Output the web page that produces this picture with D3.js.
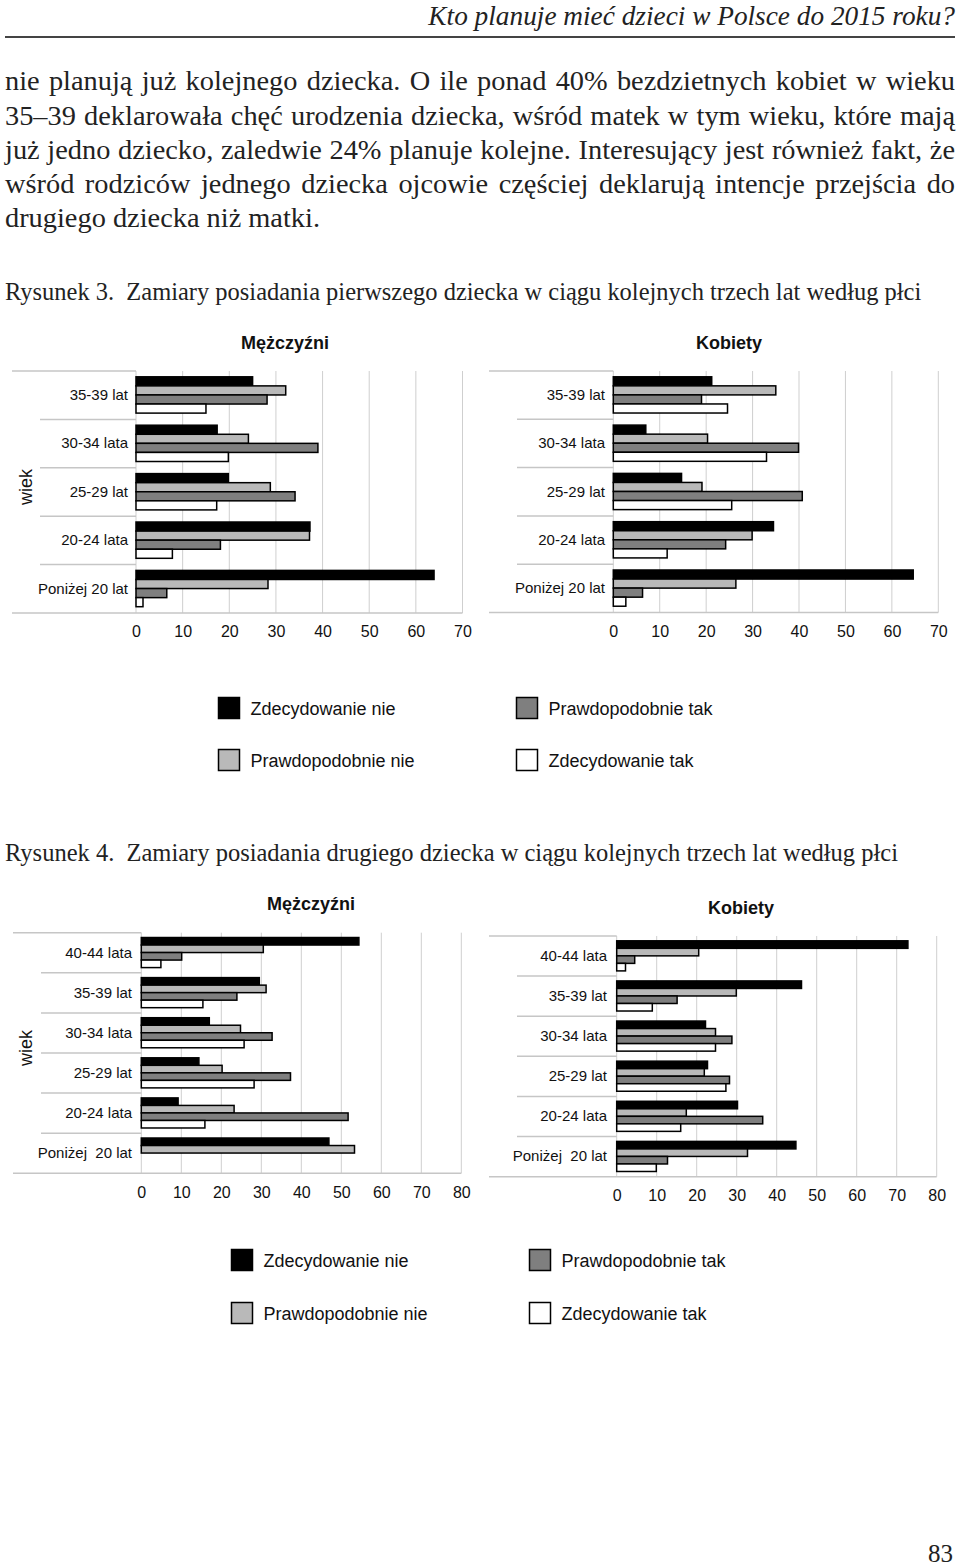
<!DOCTYPE html>
<html>
<head>
<meta charset="utf-8">
<script src="https://cdn.jsdelivr.net/npm/d3@7"></script>
<style>
  body { margin: 0; background: #fff; }
  svg { display: block; }
  .serif { font-family: "Liberation Serif", "Times New Roman", serif; fill: #222; }
  .sans { font-family: "Liberation Sans", Arial, sans-serif; fill: #111; }
</style>
</head>
<body>
<div id="page"></div>
<script>
// series (same order in every group, top to bottom)
var seriesNames = ["Zdecydowanie nie", "Prawdopodobnie nie", "Prawdopodobnie tak", "Zdecydowanie tak"];
var seriesColors = ["#000000", "#b9b9b9", "#7f7f7f", "#ffffff"];

// Rysunek 3 - first child
var ages3 = ["35-39 lat", "30-34 lata", "25-29 lat", "20-24 lata", "Poniżej 20 lat"];
var ticks3 = [0, 10, 20, 30, 40, 50, 60, 70];
// rows = ages3, columns = seriesNames
var fig3Men = [
  [25.0, 32.1, 28.1, 15.0],
  [17.4, 24.1, 39.0, 19.8],
  [19.8, 28.8, 34.1, 17.3],
  [37.3, 37.2, 18.1, 7.8],
  [63.9, 28.3, 6.6, 1.5]
];
var fig3Women = [
  [21.2, 35.0, 19.0, 24.6],
  [7.0, 20.3, 39.9, 33.0],
  [14.7, 19.1, 40.7, 25.5],
  [34.5, 29.9, 24.2, 11.6],
  [64.6, 26.4, 6.3, 2.7]
];

// Rysunek 4 - second child
var ages4 = ["40-44 lata", "35-39 lat", "30-34 lata", "25-29 lat", "20-24 lata", "Poniżej  20 lat"];
var ticks4 = [0, 10, 20, 30, 40, 50, 60, 70, 80];
var fig4Men = [
  [54.4, 30.5, 10.1, 4.9],
  [29.5, 31.2, 23.9, 15.4],
  [17.0, 24.8, 32.7, 25.7],
  [14.4, 20.2, 37.3, 28.2],
  [9.2, 23.2, 51.7, 15.9],
  [46.9, 53.3, null, null]
];
var fig4Women = [
  [72.8, 20.5, 4.5, 2.2],
  [46.2, 29.9, 15.1, 8.9],
  [22.2, 24.7, 28.8, 24.7],
  [22.7, 21.9, 28.2, 27.3],
  [30.2, 17.4, 36.5, 16.0],
  [44.8, 32.7, 12.7, 9.9]
];

var bodyLines = [
  "nie planują już kolejnego dziecka. O ile ponad 40% bezdzietnych kobiet w wieku",
  "35–39 deklarowała chęć urodzenia dziecka, wśród matek w tym wieku, które mają",
  "już jedno dziecko, zaledwie 24% planuje kolejne. Interesujący jest również fakt, że",
  "wśród rodziców jednego dziecka ojcowie częściej deklarują intencje przejścia do",
  "drugiego dziecka niż matki."
];

var W = 960, H = 1567;
var svg = d3.select("#page").append("svg")
    .attr("width", W)
    .attr("height", H);

// scale font so the text gets a given width
function fitSize(sel, base, target) {
  sel.style("font-size", base + "px");
  var len = sel.node().getComputedTextLength();
  var s = base * target / len;
  sel.style("font-size", s + "px");
  return s;
}

// running header
var hdr = svg.append("text")
    .attr("class", "serif")
    .attr("x", 955).attr("y", 25)
    .attr("text-anchor", "end")
    .style("font-style", "italic")
    .text("Kto planuje mieć dzieci w Polsce do 2015 roku?");
fitSize(hdr, 25, 527);
svg.append("line")
    .attr("x1", 5).attr("x2", 955)
    .attr("y1", 37).attr("y2", 37)
    .attr("stroke", "#444").attr("stroke-width", 2);

// paragraph, justified with word spacing
var lineBase = [90, 124.5, 158.5, 192.5, 226.5];
var body = svg.selectAll("text.body").data(bodyLines).enter()
  .append("text")
    .attr("class", "serif body")
    .attr("x", 5)
    .attr("y", function(d, i) { return lineBase[i]; })
    .text(function(d) { return d; });
var bodySize = fitSize(d3.select(body.nodes()[4]), 27, 315);
body.style("font-size", bodySize + "px")
  .each(function(d, i) {
    if (i === 4) return;
    var len = this.getComputedTextLength();
    var gaps = d.split(" ").length - 1;
    d3.select(this).style("word-spacing", ((950 - len) / gaps) + "px");
  });

function caption(txt, y, len) {
  var c = svg.append("text")
      .attr("class", "serif")
      .attr("x", 5).attr("y", y)
      .style("white-space", "pre")
      .text(txt);
  fitSize(c, 23, len);
}
caption("Rysunek 3.  Zamiary posiadania pierwszego dziecka w ciągu kolejnych trzech lat według płci", 300, 917);
caption("Rysunek 4.  Zamiary posiadania drugiego dziecka w ciągu kolejnych trzech lat według płci", 861, 893);

function title(txt, x, y) {
  svg.append("text")
      .attr("class", "sans")
      .attr("x", x).attr("y", y)
      .attr("text-anchor", "middle")
      .style("font-size", "18px")
      .style("font-weight", "bold")
      .text(txt);
}
title("Mężczyźni", 285, 349);
title("Kobiety", 729, 349);
title("Mężczyźni", 311, 910);
title("Kobiety", 741, 914);

function wiek(y) {
  svg.append("text")
      .attr("class", "sans")
      .attr("transform", "translate(32," + y + ") rotate(-90)")
      .attr("text-anchor", "middle")
      .style("font-size", "18px")
      .text("wiek");
}
wiek(487);
wiek(1048);

// one horizontal grouped bar panel
function panel(p, cats, rows, ticks, xmax) {
  var g = svg.append("g");
  var x = d3.scaleLinear().domain([0, xmax]).range([p.left, p.right]);
  var y = d3.scaleBand().domain(cats).range([p.top, p.bottom]);
  var bw = y.bandwidth();
  var ys = d3.scaleBand().domain(d3.range(seriesNames.length))
      .range([bw * 0.12, bw * 0.87]);

  // vertical gridlines
  g.selectAll("line.grid").data(ticks).enter().append("line")
      .attr("x1", function(d) { return x(d); })
      .attr("x2", function(d) { return x(d); })
      .attr("y1", p.top).attr("y2", p.bottom)
      .attr("stroke", "#cfcfcf").attr("stroke-width", 1);

  // category separators in label area
  var seps = cats.slice(1).map(function(c) { return y(c); });
  g.selectAll("line.sep").data(seps).enter().append("line")
      .attr("x1", p.sepStart).attr("x2", p.left)
      .attr("y1", function(d) { return d; })
      .attr("y2", function(d) { return d; })
      .attr("stroke", "#c6c6c6").attr("stroke-width", 1.5);
  g.append("line")
      .attr("x1", p.lineStart).attr("x2", p.left)
      .attr("y1", p.top).attr("y2", p.top)
      .attr("stroke", "#c6c6c6").attr("stroke-width", 1.5);
  g.append("line")
      .attr("x1", p.lineStart).attr("x2", p.right)
      .attr("y1", p.bottom).attr("y2", p.bottom)
      .attr("stroke", "#c6c6c6").attr("stroke-width", 1.5);

  // bars
  var groups = g.selectAll("g.grp").data(rows).enter().append("g")
      .attr("transform", function(d, i) { return "translate(0," + y(cats[i]) + ")"; });
  groups.selectAll("rect")
      .data(function(d) {
        return d.map(function(v, k) { return { v: v, k: k }; })
                .filter(function(e) { return e.v != null; });
      })
      .enter().append("rect")
      .attr("x", x(0))
      .attr("y", function(d) { return ys(d.k); })
      .attr("width", function(d) { return x(d.v) - x(0); })
      .attr("height", ys.bandwidth())
      .attr("fill", function(d) { return seriesColors[d.k]; })
      .attr("stroke", "#000").attr("stroke-width", 1.5);

  // value axis labels
  var ax = g.append("g")
      .attr("transform", "translate(0," + p.bottom + ")")
      .call(d3.axisBottom(x).tickValues(ticks).tickSize(0).tickPadding(13));
  ax.select(".domain").remove();
  ax.selectAll("text")
      .style("font-family", "'Liberation Sans', Arial, sans-serif")
      .style("font-size", "16px").attr("fill", "#111");

  // category labels
  var ay = g.append("g")
      .attr("transform", "translate(" + p.labelRight + ",0)")
      .call(d3.axisLeft(y).tickSize(0).tickPadding(0));
  ay.select(".domain").remove();
  ay.selectAll("text")
      .style("font-family", "'Liberation Sans', Arial, sans-serif")
      .style("font-size", "15px").style("white-space", "pre")
      .attr("fill", "#111");
}

panel({ left: 136, right: 462.5, top: 371, bottom: 613, lineStart: 12, sepStart: 40, labelRight: 128 },
      ages3, fig3Men, ticks3, 70);
panel({ left: 613.3, right: 938.3, top: 371, bottom: 612.5, lineStart: 489, sepStart: 517, labelRight: 605 },
      ages3, fig3Women, ticks3, 70);
panel({ left: 141.3, right: 461.3, top: 932.7, bottom: 1173.3, lineStart: 13, sepStart: 41, labelRight: 132 },
      ages4, fig4Men, ticks4, 80);
panel({ left: 616.7, right: 936.7, top: 936, bottom: 1176.7, lineStart: 489, sepStart: 517, labelRight: 607 },
      ages4, fig4Women, ticks4, 80);

// legends: two columns, two rows
var legendOrder = [0, 1, 2, 3];
function legend(x1, x2, y1, y2) {
  var pos = [[x1, y1], [x1, y2], [x2, y1], [x2, y2]];
  var lg = svg.append("g");
  var items = lg.selectAll("g").data(legendOrder).enter().append("g")
      .attr("transform", function(d, i) { return "translate(" + pos[i][0] + "," + pos[i][1] + ")"; });
  items.append("rect")
      .attr("width", 21).attr("height", 21)
      .attr("fill", function(d) { return seriesColors[d]; })
      .attr("stroke", "#000").attr("stroke-width", 1.5);
  items.append("text")
      .attr("class", "sans")
      .attr("x", 32).attr("y", 17)
      .style("font-size", "18px")
      .text(function(d) { return seriesNames[d]; });
}
legend(218.5, 516.5, 697.5, 749.5);
legend(231.5, 529.5, 1249.5, 1302.5);

// page number
svg.append("text")
    .attr("class", "serif")
    .attr("x", 953).attr("y", 1562)
    .attr("text-anchor", "end")
    .style("font-size", "25px")
    .text("83");
</script>
</body>
</html>
